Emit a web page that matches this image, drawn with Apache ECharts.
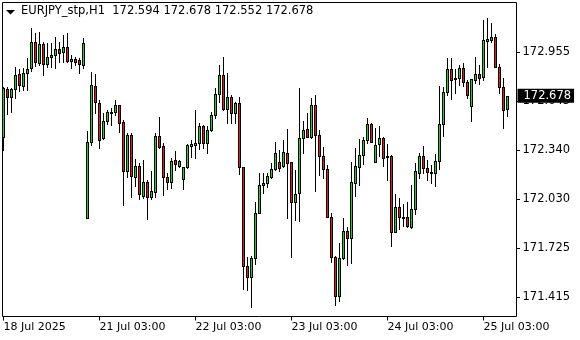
<!DOCTYPE html>
<html>
<head>
<meta charset="utf-8">
<script src="https://cdn.jsdelivr.net/npm/echarts/dist/echarts.min.js"></script>
<style>
html,body{margin:0;padding:0;background:#fff;}
#chart{width:580px;height:340px;}
</style>
</head>
<body>
<div id="chart"></div>
<script>
const symbolName = 'EURJPY_stp,H1';
const opens = [172.418,172.719,172.669,172.719,172.815,172.740,172.820,172.851,173.014,172.886,
173.003,172.876,172.924,172.934,172.970,172.951,172.983,172.899,172.907,172.903,
172.872,171.911,172.391,172.740,172.632,172.412,172.522,172.573,172.579,172.619,
172.512,172.209,172.433,172.171,172.238,172.052,172.140,172.046,172.077,172.427,
172.364,172.168,172.140,172.276,172.240,172.155,172.234,172.366,172.372,172.381,
172.489,172.385,172.464,172.558,172.688,172.807,172.596,172.673,172.569,172.632,
172.230,171.613,171.541,171.663,171.946,172.117,172.130,172.168,172.218,172.262,
172.238,172.318,172.262,172.015,172.067,172.416,172.469,172.422,172.619,172.433,
172.303,172.218,171.921,171.670,171.425,171.660,171.831,171.789,172.134,172.234,
172.307,172.401,172.500,172.265,172.376,172.416,172.301,172.301,171.826,171.980,
171.917,171.917,171.858,171.967,172.193,172.301,172.224,172.199,172.193,172.270,
172.500,172.700,172.845,172.788,172.788,172.851,172.767,172.617,172.778,172.815,
172.795,173.024,173.028,173.049,172.861,172.736,172.594];
const closes = [172.726,172.673,172.719,172.807,172.744,172.820,172.847,173.014,172.892,173.003,
172.876,172.924,172.934,172.970,172.945,172.983,172.899,172.907,172.892,172.876,
173.008,172.391,172.746,172.642,172.401,172.522,172.575,172.579,172.619,172.510,
172.209,172.433,172.178,172.238,172.061,172.140,172.042,172.082,172.427,172.359,
172.168,172.140,172.270,172.249,172.268,172.230,172.368,172.374,172.383,172.489,
172.381,172.464,172.556,172.688,172.807,172.596,172.673,172.569,172.632,172.230,
171.613,171.541,171.660,171.942,172.119,172.134,172.178,172.218,172.318,172.224,
172.324,172.255,172.011,172.063,172.412,172.464,172.422,172.619,172.433,172.303,
172.218,171.921,171.670,171.425,171.660,171.831,171.789,172.136,172.238,172.307,
172.401,172.500,172.391,172.370,172.412,172.287,172.293,171.826,171.983,171.917,
171.913,171.862,171.967,172.207,172.301,172.224,172.199,172.195,172.270,172.502,
172.700,172.845,172.778,172.782,172.851,172.763,172.684,172.782,172.815,172.788,
173.028,173.035,173.045,172.861,172.736,172.590,172.678];
const lows = [172.339,172.564,172.579,172.663,172.711,172.715,172.715,172.836,172.865,172.872,
172.809,172.861,172.861,172.851,172.892,172.892,172.892,172.855,172.872,172.823,
172.851,171.911,172.370,172.569,172.349,172.406,172.502,172.495,172.558,172.453,
171.994,172.171,172.046,172.113,172.030,172.036,171.906,172.030,172.046,172.349,
172.057,172.094,172.099,172.213,172.234,172.096,172.228,172.297,172.290,172.345,
172.349,172.322,172.460,172.538,172.640,172.593,172.506,172.506,172.506,172.188,
171.469,171.461,171.352,171.624,171.942,172.071,172.109,172.161,172.213,172.209,
172.234,171.911,171.666,171.900,171.895,172.322,172.418,172.412,172.084,172.182,
172.161,171.918,171.635,171.367,171.392,171.657,171.618,171.628,172.052,172.119,
172.249,172.381,172.388,172.262,172.303,172.238,172.151,171.739,171.823,171.843,
171.862,171.858,171.848,171.937,172.161,172.193,172.148,172.130,172.116,172.220,
172.427,172.684,172.658,172.694,172.746,172.740,172.665,172.522,172.757,172.753,
172.778,172.861,173.018,172.858,172.696,172.475,172.552];
const highs = [172.732,172.732,172.726,172.861,172.845,172.851,172.914,173.102,173.070,173.080,
173.018,173.008,173.008,173.049,173.018,173.060,173.070,172.934,172.924,172.914,
173.039,172.458,172.830,172.815,172.652,172.569,172.590,172.600,172.652,172.622,
172.527,172.443,172.443,172.280,172.255,172.276,172.151,172.207,172.443,172.548,
172.381,172.193,172.287,172.334,172.276,172.234,172.376,172.401,172.590,172.510,
172.495,172.491,172.579,172.726,172.870,172.920,172.820,172.684,172.642,172.673,
172.233,171.666,171.676,172.015,172.193,172.193,172.196,172.255,172.387,172.339,
172.401,172.470,172.265,172.213,172.726,172.522,172.569,172.663,172.684,172.464,
172.359,172.245,171.942,171.674,171.754,171.911,171.858,172.262,172.349,172.406,
172.422,172.538,172.510,172.475,172.489,172.422,172.376,172.307,172.063,172.036,
172.000,172.015,172.119,172.259,172.318,172.366,172.276,172.242,172.314,172.740,
172.736,172.917,172.914,172.847,172.872,172.886,172.778,172.784,172.920,172.872,
173.154,173.164,173.137,173.064,172.878,172.792,172.678];
const xTickLabels = ['18 Jul 2025','21 Jul 03:00','22 Jul 03:00','23 Jul 03:00','24 Jul 03:00','25 Jul 03:00'];
const xTickBars = [0,24,48,72,96,120];
const yTickValues = [171.415,171.725,172.030,172.340,172.645,172.955];
const yMin = 171.295, yMax = 173.264;
const xMin = -0.25, xMax = 128.25;
const lastPrice = 172.678;

const n = opens.length;
const candles = opens.map((o, i) => [i, o, closes[i], lows[i], highs[i]]);
const f3 = v => Number(v).toFixed(3);
const last = n - 1;
const header = symbolName + '  ' + [opens[last], highs[last], lows[last], closes[last]].map(f3).join(' ');

const FONT = 'DejaVu Sans';
const BULL = '#1ed21e', BEAR = '#dc1e1e';

function renderCandle(params, api) {
  const i = api.value(0), o = api.value(1), c = api.value(2), l = api.value(3), h = api.value(4);
  const pO = api.coord([i, o]), pC = api.coord([i, c]);
  const pL = api.coord([i, l]), pH = api.coord([i, h]);
  const k = Math.floor(pO[0]);
  const top = Math.round(Math.min(pO[1], pC[1]));
  const bot = Math.round(Math.max(pO[1], pC[1]));
  const hi = Math.round(pH[1]), lo = Math.round(pL[1]);
  const bull = c >= o;
  const kids = [
    {type: 'rect', shape: {x: k, y: hi, width: 1, height: lo - hi + 1}, style: {fill: '#000'}},
    {type: 'rect', shape: {x: k - 1, y: top, width: 3, height: bot - top + 1}, style: {fill: '#000'}}
  ];
  if (bot - top >= 2) {
    kids.push({type: 'rect', shape: {x: k, y: top + 1, width: 1, height: bot - top - 1},
               style: {fill: bull ? BULL : BEAR}});
  }
  return {type: 'group', children: kids};
}

function renderYTick(params, api) {
  const p = api.coord([api.value(0), api.value(1)]);
  const x = Math.round(p[0]), y = Math.round(p[1]);
  return {type: 'rect', shape: {x: x, y: y, width: 3, height: 1}, style: {fill: '#000'}};
}

const chart = echarts.init(document.getElementById('chart'), null, {renderer: 'canvas'});
chart.setOption({
  animation: false,
  backgroundColor: '#ffffff',
  title: {
    text: header, left: 21, top: 5, padding: 0,
    textStyle: {fontFamily: FONT, fontSize: 11.5, fontWeight: 'normal', color: '#000'}
  },
  graphic: [{
    type: 'polygon', shape: {points: [[6, 10], [15, 10], [10.5, 14.5]]},
    style: {fill: '#000'}
  }],
  grid: {left: 2.5, top: 2.5, width: 514, height: 314, containLabel: false,
         show: true, borderColor: '#000', borderWidth: 1, backgroundColor: 'transparent'},
  xAxis: {
    type: 'value', min: xMin, max: xMax, position: 'bottom',
    axisLine: {show: false},
    axisTick: {show: true, length: 4, customValues: xTickBars, lineStyle: {color: '#000'}},
    axisLabel: {
      show: true, customValues: xTickBars, align: 'left', margin: 5,
      fontFamily: FONT, fontSize: 11, color: '#000',
      formatter: (v) => { const k = xTickBars.indexOf(Math.round(v)); return k >= 0 ? xTickLabels[k] : ''; }
    },
    splitLine: {show: false}
  },
  yAxis: {
    type: 'value', position: 'right', min: yMin, max: yMax,
    axisLine: {show: false},
    axisTick: {show: false},
    axisLabel: {
      show: true, customValues: yTickValues, margin: 6,
      fontFamily: FONT, fontSize: 11.5, color: '#000', formatter: v => f3(v)
    },
    splitLine: {show: false}
  },
  series: [{
    type: 'custom',
    data: candles,
    encode: {x: 0, y: [1, 2, 3, 4]},
    clip: false,
    renderItem: renderCandle,
    markLine: {
      silent: true, symbol: ['none', 'none'], animation: false,
      lineStyle: {color: 'rgba(0,0,0,0)', width: 1, type: 'solid'},
      data: [{yAxis: lastPrice}],
      label: {
        show: true, position: 'end', distance: 1,
        formatter: () => f3(lastPrice),
        backgroundColor: '#000', color: '#fff',
        fontFamily: FONT, fontSize: 11.5, lineHeight: 13,
        padding: [1, 3, 0, 6]
      }
    }
  }, {
    type: 'custom',
    data: yTickValues.map(v => [xMax, v]),
    encode: {x: 0, y: 1},
    clip: false,
    z: 1,
    renderItem: renderYTick
  }]
});
</script>
</body>
</html>
